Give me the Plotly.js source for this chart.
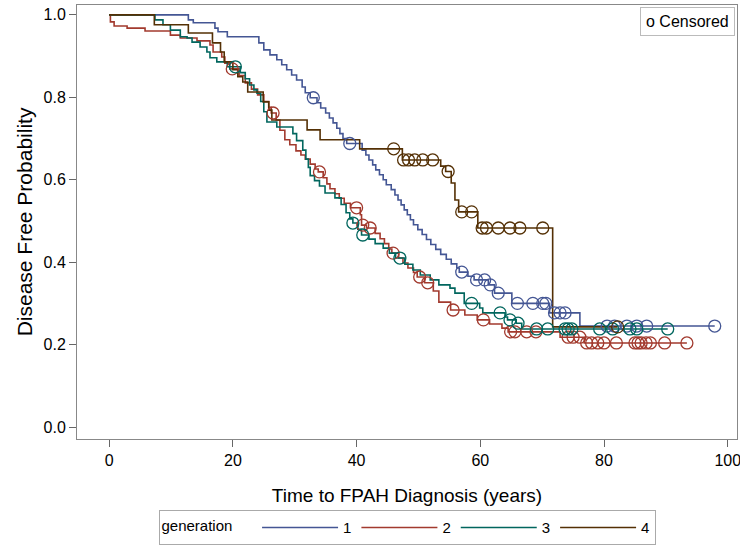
<!DOCTYPE html>
<html>
<head>
<meta charset="utf-8">
<script src="https://cdn.plot.ly/plotly-3.0.1.min.js"></script>
<style>
  html, body { margin: 0; padding: 0; background: #fff; }
  #chart { width: 740px; height: 548px; }
</style>
</head>
<body>
<div id="chart"></div>
<script>
// Kaplan-Meier estimates: event times and survival after each step
var gen1Time = [0, 12.8, 13.6, 17.1, 17.6, 19.1, 24.2, 25.0, 26.0, 27.1, 27.9, 28.7, 29.5, 30.3, 31.2, 31.7, 32.5, 33.6, 34.2,
  35.0, 35.6, 36.2, 36.8, 37.3, 37.8, 38.4, 40.9, 41.5, 42.0, 42.6, 43.1, 43.7, 44.3, 44.8, 45.6, 46.2, 46.7, 47.2, 47.7,
  48.2, 48.7, 49.2, 49.9, 50.6, 51.3, 52.0, 52.8, 53.6, 54.5, 55.3, 56.2, 56.6, 58.0, 59.0, 61.3, 62.3, 65.1, 71.2, 76.1];
var gen1Surv = [1.0, 0.988, 0.981, 0.968, 0.959, 0.947, 0.932, 0.915, 0.903, 0.891, 0.879, 0.867, 0.854, 0.842, 0.825, 0.811, 0.799, 0.787, 0.774,
  0.762, 0.750, 0.738, 0.725, 0.712, 0.700, 0.688, 0.672, 0.660, 0.648, 0.636, 0.624, 0.612, 0.600, 0.588, 0.576, 0.563, 0.551, 0.539, 0.527,
  0.515, 0.503, 0.491, 0.479, 0.467, 0.455, 0.443, 0.431, 0.419, 0.407, 0.396, 0.386, 0.376, 0.366, 0.357, 0.345, 0.325, 0.300, 0.277, 0.245];
var gen1Censor = [33.0, 38.9, 57.0, 59.4, 60.7, 61.6, 62.9, 66.0, 68.5, 70.1, 70.6, 72.0, 72.9, 73.7, 80.5, 81.7, 83.7, 85.3, 86.9, 97.9];

var gen2Time = [0, 0.2, 0.8, 2.9, 5.8, 9.9, 11.5, 14.2, 16.3, 16.8, 18.2, 18.7, 19.5, 21.0, 22.0, 23.0, 24.0, 25.0, 25.8, 26.2,
  27.0, 27.6, 28.4, 29.2, 30.2, 31.0, 31.7, 32.5, 33.3, 33.8, 34.6, 35.2, 35.7, 36.5, 37.2, 38.0, 39.0, 40.6, 40.8, 41.6,
  43.0, 43.8, 44.5, 45.2, 45.7, 46.8, 47.5, 48.3, 49.2, 49.8, 51.0, 52.4, 53.3, 55.2, 57.5, 59.5, 61.5, 63.5, 64.5, 72.9, 76.8];
var gen2Surv = [1.0, 0.983, 0.973, 0.968, 0.961, 0.951, 0.944, 0.937, 0.927, 0.910, 0.898, 0.883, 0.869, 0.853, 0.835, 0.820, 0.806, 0.790, 0.776, 0.762,
  0.745, 0.720, 0.697, 0.685, 0.670, 0.660, 0.650, 0.638, 0.626, 0.619, 0.605, 0.590, 0.578, 0.566, 0.555, 0.543, 0.532, 0.515, 0.490, 0.483,
  0.470, 0.457, 0.445, 0.432, 0.422, 0.410, 0.398, 0.386, 0.375, 0.364, 0.350, 0.330, 0.303, 0.284, 0.272, 0.260, 0.250, 0.240, 0.231, 0.218, 0.204];
var gen2Censor = [19.9, 26.5, 34.0, 40.0, 41.0, 42.2, 45.9, 50.2, 51.5, 55.6, 60.5, 64.9, 65.6, 67.5, 69.0, 74.2, 75.0, 76.1,
  77.2, 78.0, 79.0, 80.0, 82.0, 85.0, 85.5, 86.0, 86.8, 87.5, 89.8, 93.4];

var gen3Time = [0, 7.4, 8.7, 9.9, 11.5, 12.6, 13.4, 14.7, 15.8, 16.3, 17.4, 19.1, 21.2, 22.0, 22.7, 23.4, 23.9, 24.5, 25.0, 25.5,
  27.1, 29.7, 30.3, 31.3, 31.8, 32.2, 32.5, 33.2, 34.0, 34.9, 36.5, 37.5, 38.3, 38.9, 39.4, 40.2, 40.8, 42.0, 43.0, 44.3,
  45.3, 46.3, 47.8, 49.1, 50.3, 51.9, 53.3, 55.1, 55.9, 57.4, 59.9, 60.4, 64.0, 64.4, 65.8, 66.7];
var gen3Surv = [1.0, 0.988, 0.976, 0.963, 0.947, 0.944, 0.934, 0.922, 0.910, 0.896, 0.886, 0.874, 0.860, 0.845, 0.830, 0.818, 0.810, 0.790, 0.765, 0.740,
  0.728, 0.712, 0.695, 0.672, 0.650, 0.630, 0.610, 0.598, 0.585, 0.568, 0.556, 0.540, 0.520, 0.505, 0.495, 0.480, 0.466, 0.456, 0.445, 0.434,
  0.422, 0.410, 0.395, 0.381, 0.369, 0.357, 0.345, 0.337, 0.325, 0.300, 0.289, 0.277, 0.267, 0.260, 0.252, 0.238];
var gen3Censor = [20.4, 39.4, 41.0, 47.0, 58.6, 63.2, 64.8, 66.1, 69.1, 70.9, 73.7, 74.2, 74.8, 79.3, 81.4, 84.2, 85.3, 90.3];

var gen4Time = [0, 7.3, 12.8, 16.7, 18.0, 18.6, 20.0, 20.8, 21.6, 22.4, 24.9, 25.8, 26.3, 32.0, 34.1, 40.5, 47.4, 53.6, 54.4,
  55.3, 55.9, 56.5, 59.6, 71.7];
var gen4Surv = [1.0, 0.976, 0.956, 0.932, 0.910, 0.886, 0.867, 0.850, 0.837, 0.813, 0.789, 0.769, 0.745, 0.721, 0.697, 0.675, 0.648, 0.633, 0.620,
  0.592, 0.551, 0.522, 0.483, 0.243];
var gen4Censor = [46.0, 47.6, 48.4, 49.4, 50.7, 52.3, 54.8, 57.0, 58.6, 60.3, 61.0, 62.9, 64.8, 66.4, 70.1, 82.2];

var groupNames = ['1', '2', '3', '4'];
var groupColors = ['#445694', '#A23A2E', '#01665E', '#543005'];

var xTicks = [0, 20, 40, 60, 80, 100];
var yTicks = [0.0, 0.2, 0.4, 0.6, 0.8, 1.0];

function survAt(times, surv, t) {
  var s = surv[0];
  for (var i = 0; i < times.length; i++) {
    if (times[i] <= t) s = surv[i];
  }
  return s;
}

var groups = [
  [gen1Time, gen1Surv, gen1Censor],
  [gen2Time, gen2Surv, gen2Censor],
  [gen3Time, gen3Surv, gen3Censor],
  [gen4Time, gen4Surv, gen4Censor]
];

var data = [];
groups.forEach(function (g, i) {
  var times = g[0], surv = g[1], cens = g[2];
  var lastT = Math.max(times[times.length - 1], cens[cens.length - 1]);
  data.push({
    x: times.concat([lastT]),
    y: surv.concat([surv[surv.length - 1]]),
    name: groupNames[i],
    type: 'scatter',
    mode: 'lines',
    line: { shape: 'hv', color: groupColors[i], width: 1.6 },
    hoverinfo: 'skip'
  });
});
groups.forEach(function (g, i) {
  var times = g[0], surv = g[1], cens = g[2];
  data.push({
    x: cens,
    y: cens.map(function (t) { return survAt(times, surv, t); }),
    type: 'scatter',
    mode: 'markers',
    showlegend: false,
    marker: { symbol: 'circle-open', size: 12, color: groupColors[i], line: { width: 1.3, color: groupColors[i] } },
    hoverinfo: 'skip'
  });
});

var fam = 'Liberation Sans, Arial, sans-serif';
var axisFont = { family: fam, size: 16, color: '#000' };

var layout = {
  width: 740,
  height: 548,
  margin: { l: 77, r: 3, t: 5, b: 109 },
  paper_bgcolor: '#fff',
  plot_bgcolor: '#fff',
  showlegend: true,
  font: { family: fam, color: '#000' },
  xaxis: {
    range: [-5.2, 101.5],
    tickvals: xTicks,
    ticks: 'outside',
    ticklen: 7,
    tickcolor: '#666',
    tickfont: axisFont,
    ticklabeloverflow: 'allow',
    showgrid: false,
    zeroline: false,
    showline: true,
    mirror: true,
    linecolor: '#888',
    linewidth: 1,
    title: { text: 'Time to FPAH Diagnosis (years)', font: { family: fam, size: 19, color: '#000' }, standoff: 20 }
  },
  yaxis: {
    range: [-0.029, 1.024],
    tickvals: yTicks,
    tickformat: '.1f',
    ticks: 'outside',
    ticklen: 7,
    tickcolor: '#666',
    tickfont: axisFont,
    showgrid: false,
    zeroline: false,
    showline: true,
    mirror: true,
    linecolor: '#888',
    linewidth: 1,
    title: { text: 'Disease Free Probability', font: { family: fam, size: 21, color: '#000' }, standoff: 5 }
  },
  legend: {
    orientation: 'h',
    x: 0.5,
    xanchor: 'center',
    y: -0.164,
    yanchor: 'top',
    bordercolor: '#aaa',
    borderwidth: 1,
    font: { family: fam, size: 15, color: '#000' },
    title: { text: 'generation    ', font: { family: fam, size: 15, color: '#000' } },
    itemwidth: 76
  },
  annotations: [{
    xref: 'paper', yref: 'paper',
    x: 0.997, y: 0.995,
    xanchor: 'right', yanchor: 'top',
    text: 'o Censored',
    showarrow: false,
    font: { family: fam, size: 16, color: '#000' },
    bordercolor: '#bbb',
    borderwidth: 1,
    borderpad: 5,
    bgcolor: '#fff'
  }]
};

Plotly.newPlot('chart', data, layout, { displayModeBar: false, staticPlot: true });
</script>
</body>
</html>
